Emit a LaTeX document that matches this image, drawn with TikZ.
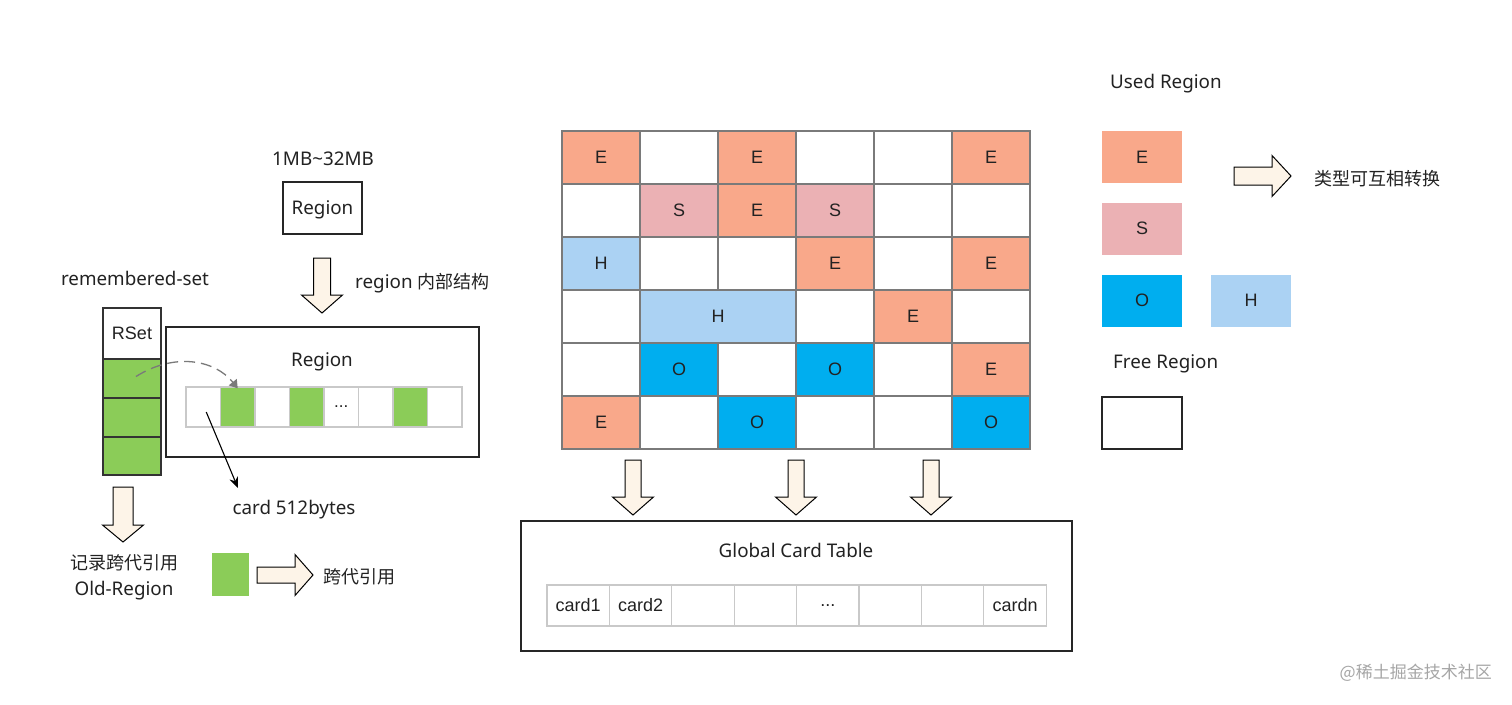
\documentclass[tikz,border=0pt]{standalone}
\usepackage{fontspec}
\setmainfont{Noto Sans}
\newfontfamily\cjk{Noto Sans CJK SC}
\newfontfamily\arialf{Liberation Sans}
\usetikzlibrary{arrows.meta}
\definecolor{ecol}{HTML}{F9A88A}
\definecolor{scol}{HTML}{EBB1B4}
\definecolor{hcol}{HTML}{ABD2F3}
\definecolor{ocol}{HTML}{00AEEF}
\definecolor{gcol}{HTML}{8BCC58}
\definecolor{cream}{HTML}{FDF4E8}
\definecolor{txt}{HTML}{222222}
\definecolor{gline}{HTML}{7A7A7A}
\definecolor{lgray}{HTML}{C9C9C9}
\newcommand\gcDown[5]{%
  \draw[blockarrow] (#1-#5,#2) -- (#1+#5,#2) -- (#1+#5,#3) -- (#1+20.5,#3) -- (#1,#4) -- (#1-20.5,#3) -- (#1-#5,#3) -- cycle;}
\newcommand\gcRight[6]{%
  \draw[blockarrow] (#1,#2-#5) -- (#3,#2-#5) -- (#3,#2-#6) -- (#4,#2) -- (#3,#2+#6) -- (#3,#2+#5) -- (#1,#2+#5) -- cycle;}
\begin{document}
\begin{tikzpicture}[x=1pt,y=-1pt,
  lbl/.style={font=\fontsize{18.8}{22}\selectfont, text=txt, inner sep=0},
  cjklbl/.style={font=\cjk\fontsize{18}{26}\selectfont, text=txt, inner sep=0},
  cell/.style={draw=gline, line width=1.4pt, minimum width=78pt, minimum height=53pt, inner sep=0, font=\arialf\fontsize{18}{20}\selectfont, text=txt},
  legbox/.style={minimum width=80pt, minimum height=52pt, inner sep=0, font=\arialf\fontsize{18}{20}\selectfont, text=txt},
  frame/.style={draw=black!85, line width=1.3pt, inner sep=0},
  rcell/.style={draw=lgray, line width=1.3pt, minimum width=34.5pt, minimum height=40pt, inner sep=0, font=\arialf\fontsize{17}{19}\selectfont, text=txt},
  ccell/.style={draw=lgray, line width=1.3pt, minimum width=62.4pt, minimum height=41pt, inner sep=0, font=\arialf\fontsize{18}{20}\selectfont, text=txt},
  rscell/.style={draw=black!80, line width=1.2pt, minimum width=58pt, inner sep=0, fill=gcol},
  blockarrow/.style={draw=black, fill=cream, line width=1pt, line join=miter}]
\fill[white] (0,0) rectangle (1512,704);
\useasboundingbox (0,0) rectangle (1512,704);

% ---------- left part ----------
\node[lbl] (size) at (323,159) {1MB\textasciitilde32MB};
\node[frame, minimum width=79pt, minimum height=52pt] (regsmall) at (322.5,208) {};
\node[lbl] (regsmalltxt) at (322.5,210) {Region};
\gcDown{322}{258}{295}{313}{8.5}
\node[lbl, anchor=west] (inner) at (355,283) {region {\cjk\fontsize{18}{22}\selectfont 内部结构}};
\node[lbl] (remset) at (135,278) {remembered-set};

\node[draw=black!80, line width=1.2pt, minimum width=58pt, minimum height=51pt, inner sep=0, font=\arialf\fontsize{18}{20}\selectfont, text=txt] (rset) at (132,333.5) {RSet};
\node[rscell, minimum height=39pt] (rs1) at (132,378.5) {};
\node[rscell, minimum height=39pt] (rs2) at (132,417.5) {};
\node[rscell, minimum height=38pt] (rs3) at (132,456) {};

\node[frame, minimum width=313pt, minimum height=130pt] (regbig) at (322.5,392) {};
\node[lbl] (regtitle) at (322,362) {Region};
\node[rcell] (c1) at (203.25,407) {};
\node[rcell, fill=gcol] (c2) at (237.75,407) {};
\node[rcell] (c3) at (272.25,407) {};
\node[rcell, fill=gcol] (c4) at (306.75,407) {};
\node[rcell] (c5) at (341.25,407) {...};
\node[rcell] (c6) at (375.75,407) {};
\node[rcell, fill=gcol] (c7) at (410.25,407) {};
\node[rcell] (c8) at (444.75,407) {};

\draw[gline, line width=1.3pt, dash pattern=on 11pt off 6pt, -{Triangle[width=10pt,length=8pt]}]
  ([shift={(4,-2)}]rs1.center) .. controls (175,352) and (215,360) .. ([yshift=-2pt]c2.north);

\node[lbl] (cardlbl) at (294,510) {card 512bytes};
\coordinate (cardtip) at (238,488);
\draw[black, line width=1.1pt, -{Stealth[width=9pt,length=11pt]}] ([shift={(3,5)}]c1.center) -- (cardtip);

\gcDown{123}{487}{525}{542}{10}
\node[cjklbl, align=center] (oldreg) at (124,577) {记录跨代引用\\{\rmfamily\fontsize{18.8}{26}\selectfont Old-Region}};
\node[fill=gcol, minimum width=37pt, minimum height=43pt, inner sep=0] (gsq) at (230.5,574.5) {};
\gcRight{257}{575}{295}{313}{8}{20.5}
\node[cjklbl, anchor=west] (cross) at (323,577) {跨代引用};

% ---------- grid ----------
\foreach \r in {0,...,5}{
  \foreach \c in {0,...,5}{
    \node[cell] (g\r\c) at (601+78*\c,157.5+53*\r) {};
  }
}
\node[cell, fill=ecol] (e00) at (601,157.5) {E};
\node[cell, fill=ecol] (e02) at (757,157.5) {E};
\node[cell, fill=ecol] (e05) at (991,157.5) {E};
\node[cell, fill=scol] (s11) at (679,210.5) {S};
\node[cell, fill=ecol] (e12) at (757,210.5) {E};
\node[cell, fill=scol] (s13) at (835,210.5) {S};
\node[cell, fill=hcol] (h20) at (601,263.5) {H};
\node[cell, fill=ecol] (e23) at (835,263.5) {E};
\node[cell, fill=ecol] (e25) at (991,263.5) {E};
\node[cell, fill=hcol, minimum width=156pt] (h31) at (718,316.5) {H};
\node[cell, fill=ecol] (e34) at (913,316.5) {E};
\node[cell, fill=ocol] (o41) at (679,369.5) {O};
\node[cell, fill=ocol] (o43) at (835,369.5) {O};
\node[cell, fill=ecol] (e45) at (991,369.5) {E};
\node[cell, fill=ecol] (e50) at (601,422.5) {E};
\node[cell, fill=ocol] (o52) at (757,422.5) {O};
\node[cell, fill=ocol] (o55) at (991,422.5) {O};

\gcDown{633}{460}{497}{515}{8}
\gcDown{796}{460}{497}{515}{8}
\gcDown{931}{460}{497}{515}{8}

% ---------- card table ----------
\node[frame, minimum width=551pt, minimum height=130pt] (gct) at (796.5,586) {};
\node[lbl] (gcttitle) at (796,550) {Global Card Table};
\node[ccell] (k1) at (578.2,605.5) {card1};
\node[ccell] (k2) at (640.6,605.5) {card2};
\node[ccell] (k3) at (703.0,605.5) {};
\node[ccell] (k4) at (765.4,605.5) {};
\node[ccell] (k5) at (827.8,605.5) {...};
\node[ccell] (k6) at (890.2,605.5) {};
\node[ccell] (k7) at (952.6,605.5) {};
\node[ccell] (k8) at (1015.0,605.5) {cardn};

% ---------- legend ----------
\node[lbl, anchor=west] (used) at (1110,84) {Used Region};
\node[legbox, fill=ecol] (le) at (1142,157) {E};
\node[legbox, fill=scol] (ls) at (1142,228.5) {S};
\node[legbox, fill=ocol] (lo) at (1142,300.5) {O};
\node[legbox, fill=hcol] (lh) at (1251,300.5) {H};
\gcRight{1234}{176}{1272}{1291}{9}{20.5}
\node[cjklbl, anchor=west] (conv) at (1314,179) {类型可互相转换};
\node[lbl, anchor=west] (free) at (1113,364) {Free Region};
\node[frame, minimum width=80pt, minimum height=52pt] (lf) at (1142,423) {};

\node[font=\cjk\fontsize{17}{20}\selectfont, text=black!35, anchor=east, inner sep=0] (wm) at (1492,673) {@稀土掘金技术社区};
\end{tikzpicture}
\end{document}
